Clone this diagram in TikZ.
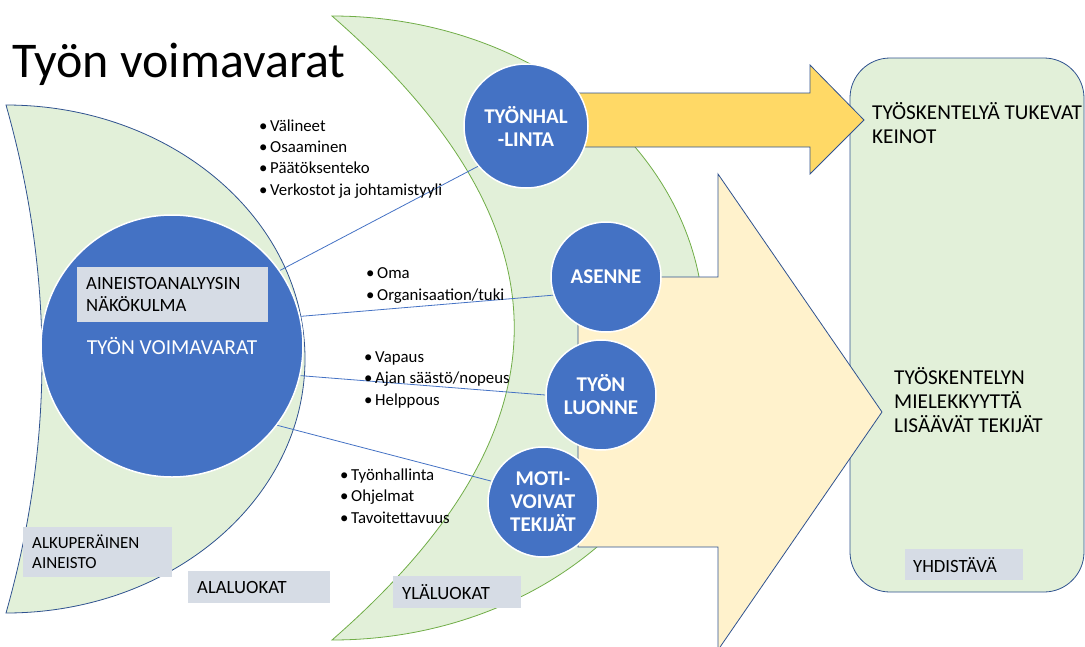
\documentclass[tikz,border=0pt]{standalone}
\usepackage{fontspec}
\setmainfont{Carlito}
\definecolor{lgreen}{HTML}{E2F0D9}
\definecolor{dblue}{HTML}{2F528F}
\definecolor{mblue}{HTML}{4472C4}
\definecolor{ggreen}{HTML}{70AD47}
\definecolor{gold}{HTML}{FFD966}
\definecolor{lyellow}{HTML}{FFF2CC}
\definecolor{boxgray}{HTML}{D6DCE5}
\pgfdeclarelayer{front}
\pgfsetlayers{main,front}
\begin{document}
\begin{tikzpicture}[x=1pt,y=-1pt,
  crescent/.style={fill=lgreen, line width=0.8pt},
  bubble/.style={circle, fill=mblue, draw=white, line width=1.5pt, text=white,
    font=\bfseries\fontsize{21}{23}\selectfont, align=center, inner sep=0pt},
  labelbox/.style={fill=boxgray, anchor=north west, align=left, inner xsep=9pt,
    inner ysep=0pt, font=\fontsize{18.7}{22}\selectfont},
  link/.style={mblue, line width=0.8pt},
  bullets/.style={anchor=base west, align=left, inner sep=0pt,
    font=\fontsize{16.8}{21.3}\selectfont},
  bigarrow/.style={draw=dblue, line width=0.8pt},
  paneltext/.style={anchor=base west, align=left, inner sep=0pt,
    font=\fontsize{21.2}{24}\selectfont}
]
\useasboundingbox (0,0) rectangle (1085,646);
\clip (0,0) rectangle (1085,646);

% crescents
\path[crescent, draw=dblue] (6,105) arc[start angle=-90, end angle=90, x radius=299, y radius=254]
  .. controls (54,444) and (54,274) .. cycle;
\path[crescent, draw=ggreen] (332,16) arc[start angle=-90, end angle=90, x radius=372, y radius=312]
  .. controls (575,428) and (575,228) .. cycle;

% right panel
\node[draw=dblue, fill=lgreen, line width=0.8pt, rounded corners=40pt,
  minimum width=234pt, minimum height=534pt, inner sep=0pt] (panel) at (967,325) {};

% arrows
\path[bigarrow, fill=gold] (560,93) -- (810,93) -- (810,65) -- (864,120) -- (810,174)
  -- (810,147) -- (560,147) -- cycle;
\path[bigarrow, fill=lyellow] (578,277) -- (718,277) -- (718,174) -- (882,412) -- (718,650)
  -- (718,547) -- (578,547) -- cycle;

\begin{pgfonlayer}{front}
% circles
\node[bubble, minimum size=262pt, font=\fontsize{21.4}{23}\selectfont] (big) at (172,346) {TYÖN VOIMAVARAT};
\node[bubble, minimum size=124pt] (tyonhal) at (526,126) {TYÖNHAL\\-LINTA};
\node[bubble, minimum size=110pt] (asenne) at (606,277) {ASENNE};
\node[bubble, minimum size=110pt] (luonne) at (601,395) {TYÖN\\LUONNE};
\node[bubble, minimum size=110pt] (moti) at (543,502) {MOTI-\\VOIVAT\\TEKIJÄT};

% label boxes
\node[labelbox, text width=173pt, minimum height=55pt] (analyysi) at (77,267) {AINEISTOANALYYSIN\\NÄKÖKULMA};
\node[labelbox, text width=131pt, minimum height=50pt, font=\fontsize{17}{20}\selectfont] (alkup) at (23,527) {ALKUPERÄINEN\\AINEISTO};
\node[labelbox, text width=124pt, minimum height=32pt] (ala) at (188,571) {ALALUOKAT};
\node[labelbox, text width=110pt, minimum height=32pt] (yla) at (393,576) {YLÄLUOKAT};
\node[labelbox, text width=102pt, minimum height=31pt, inner xsep=8pt] (yhd) at (905,549) {YHDISTÄVÄ};
\end{pgfonlayer}

% links
\draw[link] (big.35) -- (tyonhal.220);
\draw[link] (big.13) -- (asenne.199);
\draw[link] (big.-13) -- (luonne.180);
\draw[link] (big.-37) -- (moti.158);

% bullet lists
\node[bullets] (list1) at (259,195) {\makebox[11pt][l]{•}Välineet\\\makebox[11pt][l]{•}Osaaminen\\\makebox[11pt][l]{•}Päätöksenteko\\\makebox[11pt][l]{•}Verkostot ja johtamistyyli};
\node[bullets] (list2) at (366,300) {\makebox[11pt][l]{•}Oma\\\makebox[11pt][l]{•}Organisaation/tuki};
\node[bullets] (list3) at (364,405) {\makebox[11pt][l]{•}Vapaus\\\makebox[11pt][l]{•}Ajan säästö/nopeus\\\makebox[11pt][l]{•}Helppous};
\node[bullets] (list4) at (340,523) {\makebox[11pt][l]{•}Työnhallinta\\\makebox[11pt][l]{•}Ohjelmat\\\makebox[11pt][l]{•}Tavoitettavuus};

% panel texts
\node[paneltext] (keinot) at (872,143) {TYÖSKENTELYÄ TUKEVAT\\KEINOT};
\node[paneltext] (mielekkyys) at (894,432) {TYÖSKENTELYN\\MIELEKKYYTTÄ\\LISÄÄVÄT TEKIJÄT};

% title
\node[anchor=base west, inner sep=0pt, font=\fontsize{50}{60}\selectfont] (title) at (12,77) {Työn voimavarat};
\end{tikzpicture}
\end{document}
